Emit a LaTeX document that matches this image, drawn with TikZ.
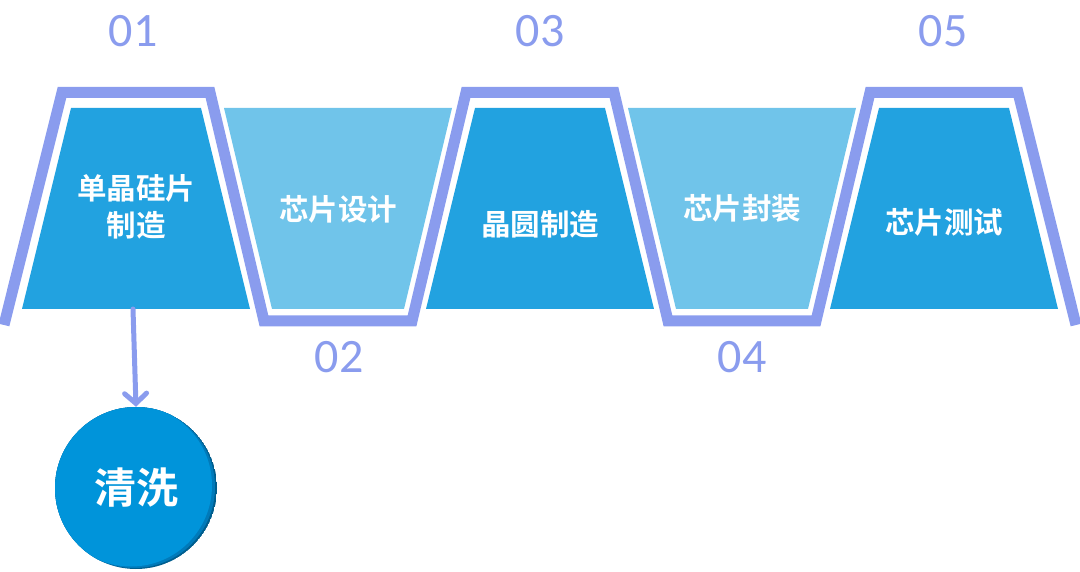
\documentclass[tikz,border=0pt]{standalone}
\usepackage{fontspec}
\setmainfont{Carlito}
\newfontfamily\cjk{Noto Sans CJK SC Bold}
\usepackage{tikz}
\usetikzlibrary{arrows.meta}

\definecolor{darkstep}{HTML}{22A2E0}
\definecolor{lightstep}{HTML}{70C4EA}
\definecolor{framecol}{HTML}{8A9CEE}
\definecolor{circlecol}{HTML}{0094DA}
\definecolor{circledark}{HTML}{005E8E}
\definecolor{circlemid}{HTML}{007ABA}

\begin{document}
\begin{tikzpicture}[x=1pt, y=-1pt,
  stepdark/.style = {fill = darkstep},
  steplight/.style = {fill = lightstep},
  steptext/.style = {text = white, font = \cjk\fontsize{29.5}{37}\selectfont, align = center},
  stepnum/.style = {text = framecol, font = \fontsize{48}{50}\selectfont},
  frame/.style = {draw = framecol, line width = 11pt},
  arr/.style = {draw = framecol, line width = 5pt, line cap = round,
    -{Straight Barb[length = 10pt, width = 22pt, line cap = round]}}]
  \useasboundingbox (0, 0) rectangle (1080, 572);

  % trapezoids
  \foreach \c in {136, 540, 944}
    \path[stepdark] (\c-65, 108) -- (\c+65, 108) -- (\c+114, 309) -- (\c-114, 309) -- cycle;
  \foreach \c in {338, 742}
    \path[steplight] (\c-114, 108) -- (\c+114, 108) -- (\c+66, 309) -- (\c-66, 309) -- cycle;

  % zigzag frame
  \draw[frame] (4, 325) -- (62, 92.5) -- (210, 92.5) -- (264, 321) -- (412, 321)
    -- (466, 92.5) -- (614, 92.5) -- (668, 321) -- (816, 321)
    -- (870, 92.5) -- (1018, 92.5) -- (1076, 325);

  \node[steptext] (S1) at (136, 207) {单晶硅片\\制造};
  \node[steptext] (S2) at (338, 209) {芯片设计};
  \node[steptext] (S3) at (540, 224) {晶圆制造};
  \node[steptext] (S4) at (742, 208) {芯片封装};
  \node[steptext] (S5) at (944, 222) {芯片测试};

  \node[stepnum] (N1) at (133, 31) {01};
  \node[stepnum] (N2) at (339, 357) {02};
  \node[stepnum] (N3) at (540, 31) {03};
  \node[stepnum] (N4) at (742, 357) {04};
  \node[stepnum] (N5) at (943, 31) {05};

  % circle with inner shadow
  \begin{scope}
    \clip (136, 488) circle (81);
    \fill[circledark] (136, 488) circle (81);
    \fill[circlemid] (134, 487) circle (81);
    \fill[circlecol] (131, 485.5) circle (81);
  \end{scope}
  \node[circle, minimum size = 162pt, text = white,
    font = \cjk\fontsize{42}{44}\selectfont] (Clean) at (136, 488) {清洗};

  \coordinate (S1b) at (133, 309);
  \draw[arr] (S1b) -- (Clean.north);
\end{tikzpicture}
\end{document}
